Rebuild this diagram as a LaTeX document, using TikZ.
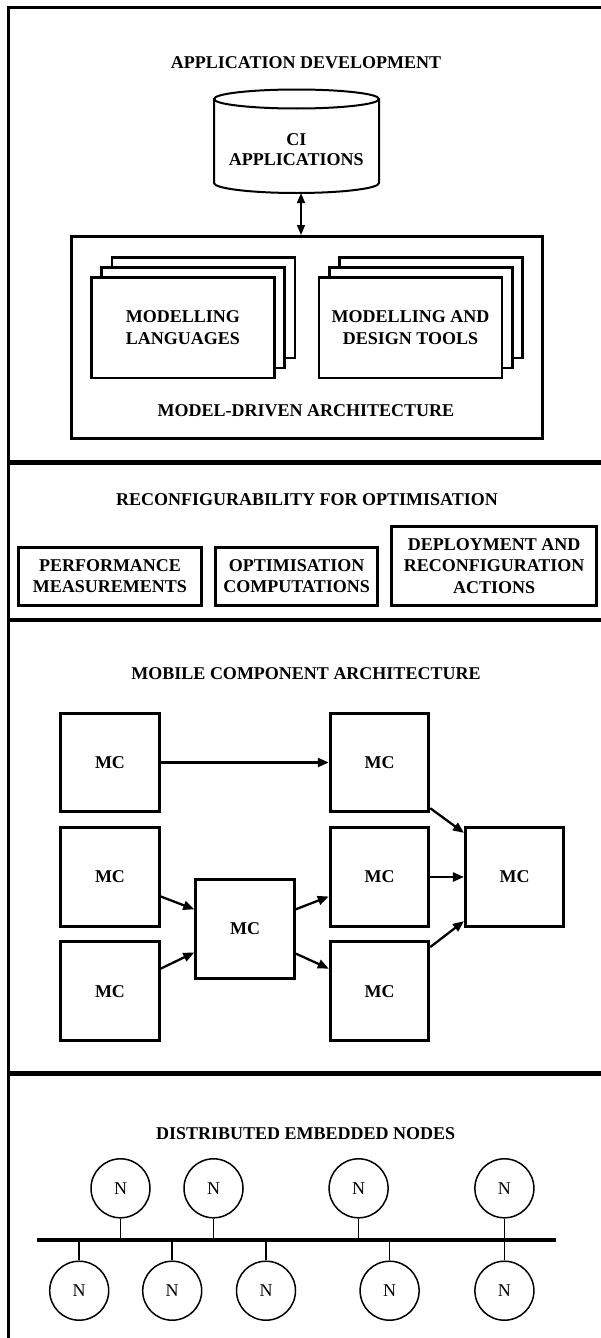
\documentclass[tikz,border=0pt]{standalone}
\usepackage{fontspec}
\setmainfont{Liberation Serif}
\usetikzlibrary{arrows.meta,calc}
\begin{document}
\begin{tikzpicture}[x=1pt,y=-1pt,
  ttl/.style={font=\fontsize{18}{21.6}\selectfont\bfseries, align=center, inner sep=0pt},
  stackbox/.style={draw, line width=2.5pt, fill=white, minimum width=183pt, minimum height=100.5pt},
  optbox/.style={draw, line width=3pt, ttl},
  mcbox/.style={draw, line width=3pt, minimum size=98.5pt, ttl},
  mcarrow/.style={line width=2.3pt, -{Triangle[length=11pt,width=9pt]}},
  nd/.style={draw, circle, line width=1.5pt, minimum size=59pt, inner sep=0pt, font=\fontsize{18}{20}\selectfont},
  stem/.style={line width=1.5pt}]
\useasboundingbox (0,0) rectangle (600,1338);
% frame and dividers
\draw[line width=3pt] (8,1345) -- (8,8) -- (605,8);
\draw[line width=4.5pt] (8,462.7) -- (605,462.7);
\draw[line width=4pt] (8,620) -- (605,620);
\draw[line width=4.5pt] (8,1073.5) -- (605,1073.5);

% ---------- Application development
\node[ttl] (tad) at (306,63) {APPLICATION DEVELOPMENT};
\draw[line width=2pt, fill=white] (214,99) -- (214,183)
  .. controls (214,188.5) and (251.4,193) .. (296.5,193)
  .. controls (341.6,193) and (379,188.5) .. (379,183) -- (379,99);
\draw[line width=2pt] (296.5,99) ellipse [x radius=82.5, y radius=9.5];
\node[ttl, font=\fontsize{18}{20}\selectfont\bfseries] (cyl) at (296.3,149.5) {CI\\APPLICATIONS};
\coordinate (cylb) at (301,193);
\node[draw, line width=3pt, minimum width=471.5pt, minimum height=202pt] (mda) at (307,337.5) {};
\draw[line width=1.3pt, {Triangle[length=10pt,width=8pt]}-{Triangle[length=10pt,width=8pt]}] (cylb) -- (cylb |- mda.north);
\node[stackbox] (lang3) at (203.5,307.5) {};
\node[stackbox] (lang2) at (193.2,317.5) {};
\node[stackbox, ttl] (lang) at (182.9,327.5) {MODELLING\\LANGUAGES};
\node[stackbox] (tools3) at (431.1,307.5) {};
\node[stackbox] (tools2) at (420.8,317.5) {};
\node[stackbox, ttl] (tools) at (410.5,327.5) {MODELLING AND\\DESIGN TOOLS};
\node[ttl] (mdal) at (306,410.7) {MODEL-DRIVEN ARCHITECTURE};

% ---------- Reconfigurability
\node[ttl] (trec) at (307,500) {RECONFIGURABILITY FOR OPTIMISATION};
\node[optbox, minimum width=182.6pt, minimum height=57.7pt] (perf) at (110,576.3) {PERFORMANCE\\MEASUREMENTS};
\node[optbox, minimum width=161.6pt, minimum height=57.7pt] (optc) at (296.6,576.3) {OPTIMISATION\\COMPUTATIONS};
\node[optbox, minimum width=204.4pt, minimum height=78.7pt] (depl) at (494.1,565.8) {DEPLOYMENT AND\\RECONFIGURATION\\ACTIONS};

% ---------- Mobile component architecture
\node[ttl] (tmc) at (306,673.3) {MOBILE COMPONENT ARCHITECTURE};
\node[mcbox] (m11) at (110,762.5) {MC};
\node[mcbox] (m21) at (110,877) {MC};
\node[mcbox] (m31) at (110,991.2) {MC};
\node[mcbox] (mid) at (245,928.8) {MC};
\node[mcbox] (m13) at (379.5,762.5) {MC};
\node[mcbox] (m23) at (379.5,877) {MC};
\node[mcbox] (m33) at (379.5,991.2) {MC};
\node[mcbox] (mr) at (514.7,877) {MC};
\draw[mcarrow] (m11.east) -- (m13.west);
\draw[mcarrow] (m21.-21) -- (mid.159);
\draw[mcarrow] (m31.24) -- (mid.205);
\draw[mcarrow] (mid.21) -- (m23.201);
\draw[mcarrow] (mid.-26) -- (m33.156);
\draw[mcarrow] (m13.-42) -- (mr.139);
\draw[mcarrow] (m23.east) -- (mr.west);
\draw[mcarrow] (m33.41) -- (mr.221);

% ---------- Distributed embedded nodes
\node[ttl] (tden) at (305.7,1133.3) {DISTRIBUTED EMBEDDED NODES};
\coordinate (busL) at (37.1,1240);
\coordinate (busR) at (555.7,1240);
\draw[line width=3.3pt] (busL) -- (busR);
\node[nd] (u1) at (120.5,1188.3) {N};
\node[nd] (u2) at (213.5,1188.3) {N};
\node[nd] (u3) at (358.6,1188.3) {N};
\node[nd] (u4) at (504.4,1188.3) {N};
\node[nd] (d1) at (79.2,1290.7) {N};
\node[nd] (d2) at (172.2,1290.7) {N};
\node[nd] (d3) at (266,1290.7) {N};
\node[nd] (d4) at (389.6,1290.7) {N};
\node[nd] (d5) at (504.4,1290.7) {N};
\foreach \u in {u1,u2,u3,u4} \draw[stem] (\u.south) -- (\u.south |- busL);
\foreach \d in {d1,d2,d3,d4,d5} \draw[stem] (\d.north) -- (\d.north |- busL);
\end{tikzpicture}
\end{document}
